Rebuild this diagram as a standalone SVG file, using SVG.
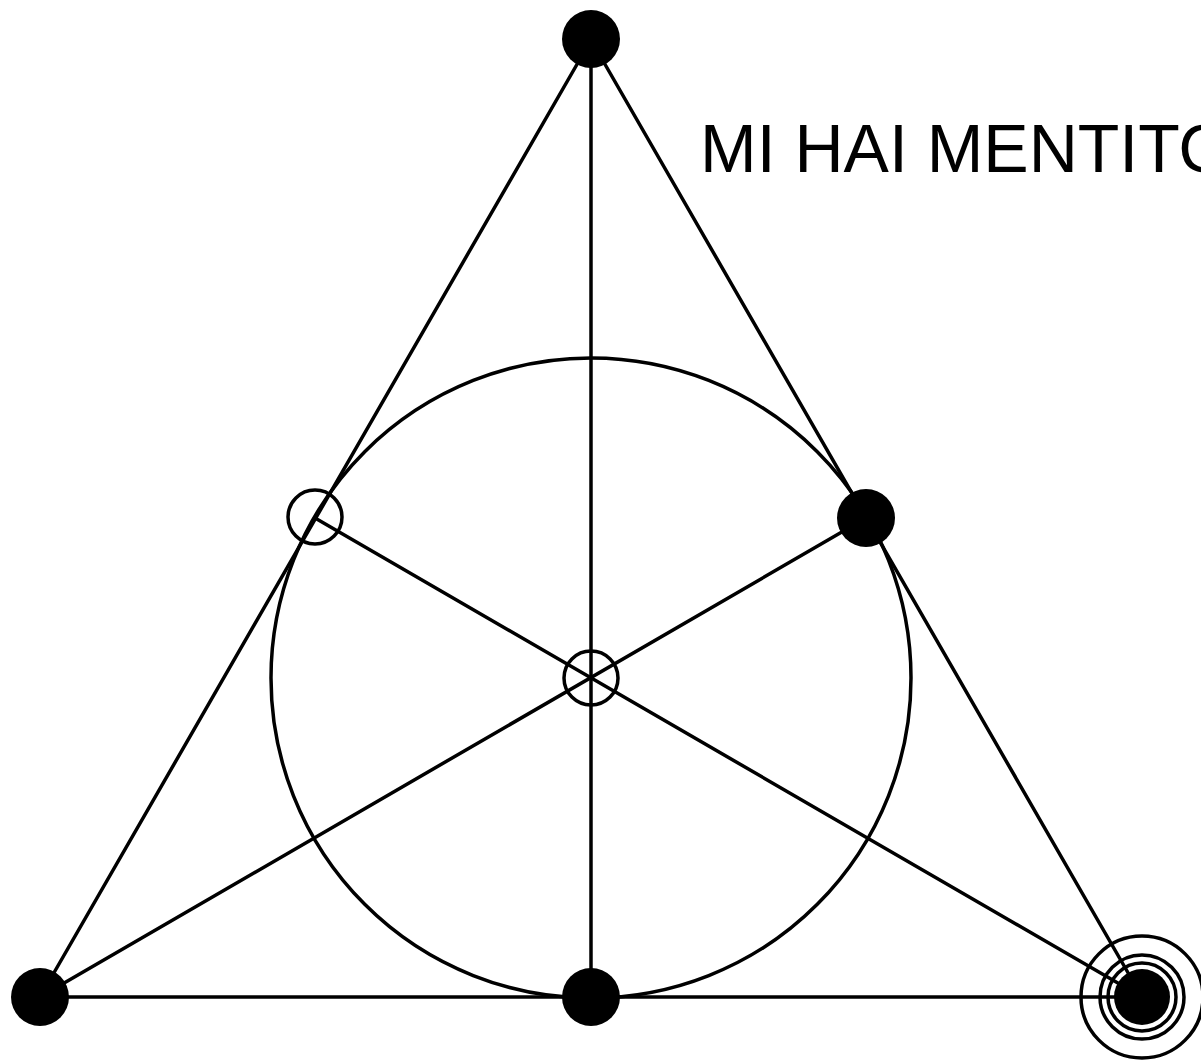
<svg xmlns="http://www.w3.org/2000/svg" width="1201" height="1061" viewBox="0 0 1201 1061">
<style>
.ln{stroke:#000;stroke-width:3.5;fill:none;stroke-linecap:round}
.ring{stroke:#000;stroke-width:3.5;fill:none}
.dot{fill:#000}
.open{stroke:#000;stroke-width:3.5;fill:none}
.lbl{font-family:"Liberation Sans",Arial,sans-serif;font-size:68px;fill:#000}
</style>
<rect width="1201" height="1061" fill="#fff"/>
<g id="incircle"><circle class="ring" cx="591" cy="678" r="320"/></g>
<g id="connectors">
<line class="ln" x1="591" y1="40" x2="40" y2="997"/>
<line class="ln" x1="591" y1="40" x2="1142" y2="997"/>
<line class="ln" x1="40" y1="997" x2="1142" y2="997"/>
<line class="ln" x1="591" y1="40" x2="591" y2="997"/>
<line class="ln" x1="40" y1="997" x2="866" y2="518"/>
<line class="ln" x1="1142" y1="997" x2="315" y2="518"/>
</g>
<g id="n-top"><circle class="dot" cx="591" cy="39" r="29"/></g>
<g id="n-bl"><circle class="dot" cx="40" cy="997" r="29"/></g>
<g id="n-bm"><circle class="dot" cx="591" cy="997" r="29"/></g>
<g id="n-rm"><circle class="dot" cx="866" cy="518" r="29"/></g>
<g id="n-lm"><circle class="open" cx="315" cy="517" r="27"/></g>
<g id="n-c"><circle class="open" cx="591" cy="678" r="27"/></g>
<g id="n-br">
<circle class="ring" cx="1142" cy="997" r="61"/>
<circle class="ring" cx="1142" cy="997" r="42"/>
<circle class="ring" cx="1142" cy="997" r="34"/>
<circle class="dot" cx="1142" cy="997" r="28"/>
</g>
<g id="label"><text class="lbl" x="700" y="172">MI HAI MENTITO</text></g>
</svg>
